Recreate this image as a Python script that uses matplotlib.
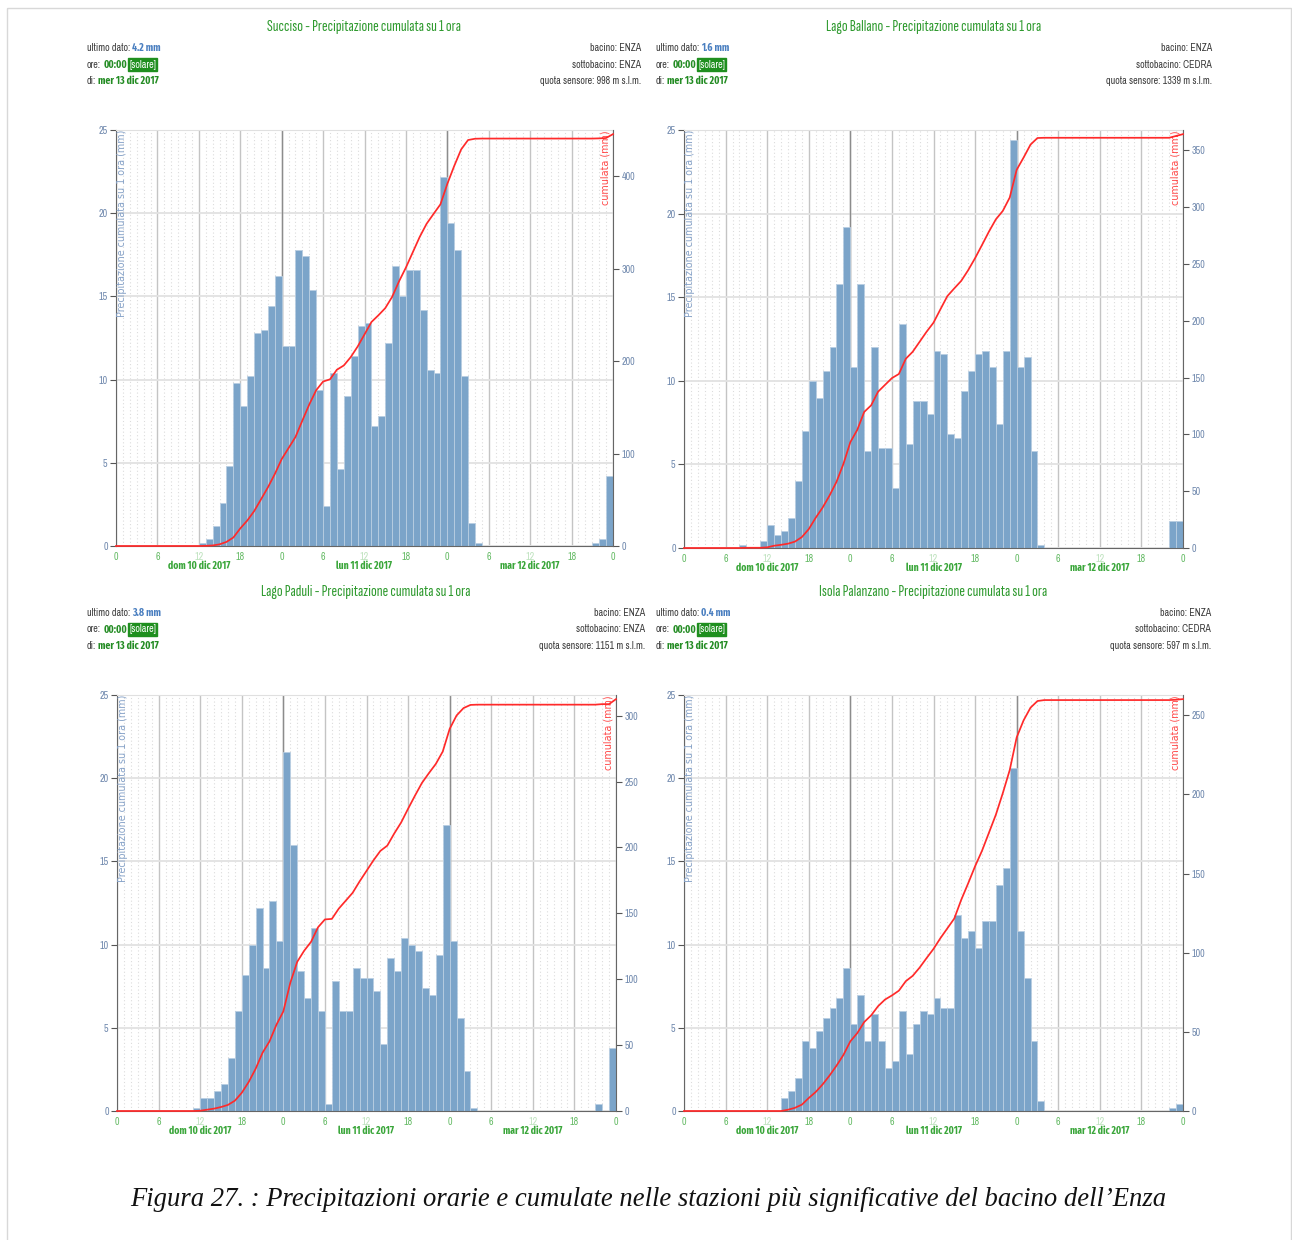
import numpy as np
import matplotlib
matplotlib.use("Agg")
import matplotlib.pyplot as plt
from matplotlib.patches import Rectangle

W, H, DPI = 1292, 1240, 100

# ---- data -----------------------------------------------------------------
hours = np.arange(72)                       # 10 dic 00:00 -> 13 dic 00:00
hour_tick_labels = ["0", "6", "12", "18"] * 3 + ["0"]
day_labels = ["dom 10 dic 2017", "lun 11 dic 2017", "mar 12 dic 2017"]

stations = ["Succiso", "Lago Ballano", "Lago Paduli", "Isola Palanzano"]
bacino = ["ENZA", "ENZA", "ENZA", "ENZA"]
sottobacino = ["ENZA", "CEDRA", "ENZA", "CEDRA"]
quota = [998, 1339, 1151, 597]
ora = "00:00"
giorno = "mer 13 dic 2017"

# hourly precipitation (mm)
succiso = [
    0, 0, 0, 0, 0, 0, 0, 0, 0, 0, 0, 0,
    0.2, 0.4, 1.2, 2.6, 4.8, 9.8, 8.4, 10.2, 12.8, 13.0, 14.4, 16.2,
    12.0, 12.0, 17.8, 17.4, 15.4, 9.4, 2.4, 10.4, 4.6, 9.0, 11.4, 13.2,
    13.4, 7.2, 7.8, 12.2, 16.8, 15.0, 16.6, 16.6, 14.2, 10.6, 10.4, 22.2,
    19.4, 17.8, 10.2, 1.4, 0.2, 0, 0, 0, 0, 0, 0, 0,
    0, 0, 0, 0, 0, 0, 0, 0, 0, 0.2, 0.4, 4.2,
]
lago_ballano = [
    0, 0, 0, 0, 0, 0, 0, 0, 0.2, 0, 0, 0.4,
    1.4, 0.8, 1.0, 1.8, 4.0, 7.0, 10.0, 9.0, 10.6, 12.0, 15.8, 19.2,
    10.8, 15.8, 5.8, 12.0, 6.0, 6.0, 3.6, 13.4, 6.2, 8.8, 8.8, 8.0,
    11.8, 11.6, 6.8, 6.6, 9.4, 10.6, 11.6, 11.8, 10.8, 7.4, 11.8, 24.4,
    10.8, 11.4, 5.8, 0.2, 0, 0, 0, 0, 0, 0, 0, 0,
    0, 0, 0, 0, 0, 0, 0, 0, 0, 0, 1.6, 1.6,
]
lago_paduli = [
    0, 0, 0, 0, 0, 0, 0, 0, 0, 0, 0, 0.2,
    0.8, 0.8, 1.2, 1.6, 3.2, 6.0, 8.2, 10.0, 12.2, 8.6, 12.6, 10.2,
    21.6, 16.0, 8.4, 6.8, 11.0, 6.0, 0.4, 7.8, 6.0, 6.0, 8.6, 8.0,
    8.0, 7.2, 4.0, 9.2, 8.4, 10.4, 10.0, 9.6, 7.4, 7.0, 9.4, 17.2,
    10.2, 5.6, 2.4, 0.2, 0, 0, 0, 0, 0, 0, 0, 0,
    0, 0, 0, 0, 0, 0, 0, 0, 0, 0.4, 0, 3.8,
]
isola_palanzano = [
    0, 0, 0, 0, 0, 0, 0, 0, 0, 0, 0, 0,
    0, 0, 0.8, 1.2, 2.0, 4.2, 3.8, 4.8, 5.6, 6.2, 6.8, 8.6,
    5.2, 7.0, 4.2, 5.8, 4.2, 2.6, 3.0, 6.0, 3.4, 5.2, 6.0, 5.8,
    6.8, 6.2, 6.2, 11.8, 10.4, 10.8, 9.8, 11.4, 11.4, 13.6, 14.6, 20.6,
    10.8, 8.0, 4.2, 0.6, 0, 0, 0, 0, 0, 0, 0, 0,
    0, 0, 0, 0, 0, 0, 0, 0, 0, 0, 0.2, 0.4,
]
series = [succiso, lago_ballano, lago_paduli, isola_palanzano]
cum_tick_step = [100, 50, 50, 50]

caption = ("Figura 27. : Precipitazioni orarie e cumulate nelle stazioni più "
           "significative del bacino dell\u2019Enza")

# ---- style ----------------------------------------------------------------
TITLE_FONT = ["Sofia Sans Extra Condensed", "DejaVu Sans"]
NARROW = ["Archivo Narrow", "DejaVu Sans"]
NARROW_BOLD = ["Fira Sans Extra Condensed", "DejaVu Sans"]
BAR = "#7ba4c9"
BAR_EDGE = "#b9cee2"
RED = "#ff2a2a"
GREEN_T = "#2f9a2f"
GREEN_B = "#248c24"
GREEN_TICK = "#66bb66"
BLUE_V = "#4a7fc0"
GREY_TXT = "#3c3c3c"
AX_TXT = "#6f88ad"

fig = plt.figure(figsize=(W / DPI, H / DPI), dpi=DPI)
fig.patch.set_facecolor("white")

ov = fig.add_axes([0, 0, 1, 1])
ov.set_xlim(0, W)
ov.set_ylim(H, 0)
ov.axis("off")

# outer frame
ov.add_patch(Rectangle((6.5, 7.5), 1284, 1240, fill=False,
                       edgecolor="#d8d8d8", linewidth=1.0))

# axes boxes (left, top, right, bottom) in pixels and header anchors
boxes = [(116, 130, 613, 546), (684, 130, 1183, 548),
         (117, 695, 616, 1111), (684, 695, 1183, 1111)]
headers = [  # title centre x, title y, info left x, info right x, first row y
    (364, 27, 87, 641, 48), (934, 27, 656, 1212, 48),
    (366, 592, 87, 645, 613), (933, 592, 656, 1211, 613)]

FS_INFO = 7.2
BOLD = dict(weight="bold", family=NARROW_BOLD, fontsize=7.6)


def chain(x, y, parts):
    """Write consecutive text pieces on one line, each with its own style."""
    first_s, first_kw = parts[0]
    prev = ov.text(x, y, first_s, ha="left", va="center", family=NARROW,
                   fontsize=FS_INFO, **first_kw)
    for s, kw in parts[1:]:
        style = dict(family=NARROW, fontsize=FS_INFO)
        style.update(kw)
        prev = ov.annotate(s, xy=(1, 0.5), xycoords=prev, xytext=(1.6, 0),
                           textcoords="offset points", ha="left", va="center",
                           **style)
    return prev


for i, (name, vals) in enumerate(zip(stations, series)):
    vals = np.asarray(vals, dtype=float)
    cx, ty, lx, rx, ry = headers[i]

    # header
    ov.text(cx, ty, f"{name} - Precipitazione cumulata su 1 ora", ha="center",
            va="center", family=TITLE_FONT, fontsize=12.2, color=GREEN_T)
    chain(lx, ry, [("ultimo dato:", dict(color=GREY_TXT)),
                   (f"{vals[-1]:.1f} mm", dict(color=BLUE_V, **BOLD))])
    chain(lx, ry + 16.5, [
        ("ore:", dict(color=GREY_TXT)),
        (ora, dict(color=GREEN_B, **BOLD)),
        ("[solare]", dict(color="white",
                          bbox=dict(boxstyle="square,pad=0.12",
                                    facecolor="#1f8f1f", edgecolor="#1f8f1f")))])
    chain(lx, ry + 33, [("di:", dict(color=GREY_TXT)),
                        (giorno, dict(color=GREEN_B, **BOLD))])
    for k, s in enumerate([f"bacino: {bacino[i]}",
                           f"sottobacino: {sottobacino[i]}",
                           f"quota sensore: {quota[i]} m s.l.m."]):
        ov.text(rx, ry + 16.5 * k, s, ha="right", va="center", family=NARROW,
                fontsize=FS_INFO, color=GREY_TXT)

    # chart
    x0, y0, x1, y1 = boxes[i]
    ax = fig.add_axes([x0 / W, 1 - y1 / H, (x1 - x0) / W, (y1 - y0) / H])
    ax.set_xlim(0, 72)
    ax.set_ylim(0, 25)
    ax.set_axisbelow(True)

    ax.set_xticks(np.arange(0, 73, 6))
    ax.set_xticklabels(hour_tick_labels)
    ax.set_xticks(np.arange(73), minor=True)
    ax.set_yticks(np.arange(0, 26, 5))
    ax.grid(which="minor", axis="x", color="#dcdcdc", linestyle=(0, (1, 2.2)),
            linewidth=0.8)
    ax.grid(which="major", axis="x", color="#c4c4c4", linewidth=1.0)
    ax.grid(which="major", axis="y", color="#e2e2e2", linewidth=1.3)
    for d in (24, 48):
        ax.axvline(d, color="#8c8c8c", linewidth=1.0, zorder=0.6)

    ax.bar(hours, vals, width=1, align="edge", color=BAR, edgecolor=BAR_EDGE,
           linewidth=0.6, zorder=2)

    for side in ("left", "bottom"):
        ax.spines[side].set_color("#666666")
    ax.spines["top"].set_color("#e0e0e0")
    ax.spines["right"].set_visible(False)
    ax.tick_params(axis="y", which="major", length=4, width=0.8,
                   color="#555555", labelsize=7.2, labelcolor=AX_TXT, pad=2)
    ax.tick_params(axis="x", which="major", length=0, labelsize=7.2,
                   labelcolor=GREEN_TICK, pad=4)
    ax.tick_params(axis="x", which="minor", length=0)
    for lab in ax.get_yticklabels() + ax.get_xticklabels():
        lab.set_family(NARROW)
    for j, lab in enumerate(ax.get_xticklabels()):
        if hour_tick_labels[j] == "12":
            lab.set_color("#bfe3bf")

    for k, dl in enumerate(day_labels):
        ax.annotate(dl, xy=(12 + 24 * k, 0), xycoords=("data", "axes fraction"),
                    xytext=(0, -14.5), textcoords="offset points", ha="center",
                    va="center", family=NARROW_BOLD, fontsize=7.5,
                    weight="bold", color="#3aa63a", annotation_clip=False)

    ax.text(0.012, 1.0, "Precipitazione cumulata su 1 ora (mm)", rotation=90,
            transform=ax.transAxes, ha="center", va="top", fontsize=6.9,
            color="#86a2c8")

    # cumulative series
    ax2 = ax.twinx()
    cum = np.concatenate([[0.0], np.cumsum(vals)])
    ax2.plot(np.arange(73), cum, color=RED, linewidth=1.25, zorder=5,
             clip_on=False)
    top = cum[-1] * 1.01
    ax2.set_ylim(0, top)
    step = cum_tick_step[i]
    ax2.set_yticks(np.arange(0, top, step))
    for side in ("left", "top", "bottom"):
        ax2.spines[side].set_visible(False)
    ax2.spines["right"].set_color("#666666")
    ax2.tick_params(axis="y", length=4, width=0.8, color="#555555",
                    labelsize=7.2, labelcolor=AX_TXT, pad=2)
    for lab in ax2.get_yticklabels():
        lab.set_family(NARROW)
    ax2.text(0.985, 1.0, "cumulata (mm)", rotation=90, transform=ax2.transAxes,
             ha="center", va="top", fontsize=6.9, color="#ff4a4a")

ov.text(W / 2 + 2, 1200, caption, ha="center", va="center",
        family=["Liberation Serif", "DejaVu Serif"], style="italic",
        fontsize=19.2, color="#111111")

fig.savefig("out.png", dpi=DPI)
